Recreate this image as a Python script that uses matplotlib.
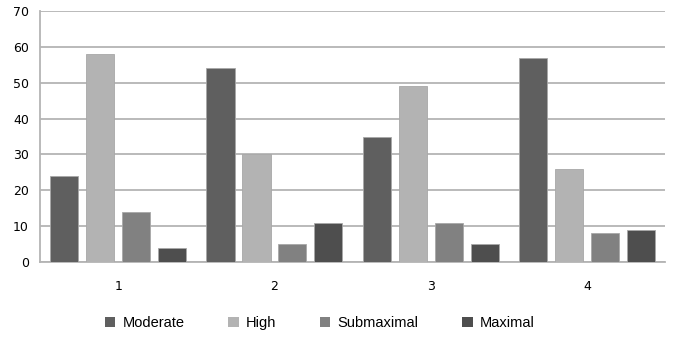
import numpy as np
import matplotlib
matplotlib.use("Agg")
import matplotlib.pyplot as plt
from matplotlib.patches import Patch

groups = ["1", "2", "3", "4"]
series = ["Moderate", "High", "Submaximal", "Maximal"]
moderate = [24, 54, 35, 57]
high = [58, 30, 49, 26]
submaximal = [14, 5, 11, 8]
maximal = [4, 11, 5, 9]
colors = ["#5f5f5f", "#b3b3b3", "#818181", "#4e4e4e"]

values = [moderate, high, submaximal, maximal]

fig = plt.figure(figsize=(6.75, 3.43), dpi=100)
ax = fig.add_axes([0.0593, 0.236, 0.926, 0.732])

x = np.arange(len(groups))
step = 0.23
width = 0.18
for k, (name, vals) in enumerate(zip(series, values)):
    ax.bar(x + (k - 1.5) * step, vals, width, color=colors[k],
           edgecolor="#a8a8a8", linewidth=0.6, label=name, zorder=3)

ax.set_xlim(-0.5, 3.5)
ax.set_ylim(0, 70)
ax.set_yticks(range(0, 71, 10))
ax.yaxis.grid(True, color="#b4b4b4", linewidth=1.3, zorder=0)
ax.set_axisbelow(True)

ax.set_xticks(x)
ax.set_xticklabels(groups)
ax.tick_params(axis="x", length=0, pad=13, labelsize=9)
ax.tick_params(axis="y", length=0, labelsize=9, pad=8)

for s in ["top", "right"]:
    ax.spines[s].set_visible(False)
for s in ["left", "bottom"]:
    ax.spines[s].set_color("#b4b4b4")
    ax.spines[s].set_linewidth(1.3)

handles = [Patch(facecolor=c, edgecolor="none") for c in colors]
fig.legend(handles, series, loc="center", bbox_to_anchor=(0.474, 0.058),
           ncol=4, frameon=False, handlelength=0.7, handleheight=0.7,
           handletextpad=0.5, columnspacing=3.0,
           prop={"family": "Liberation Sans", "size": 10.5})

fig.savefig("out.png", dpi=100)
